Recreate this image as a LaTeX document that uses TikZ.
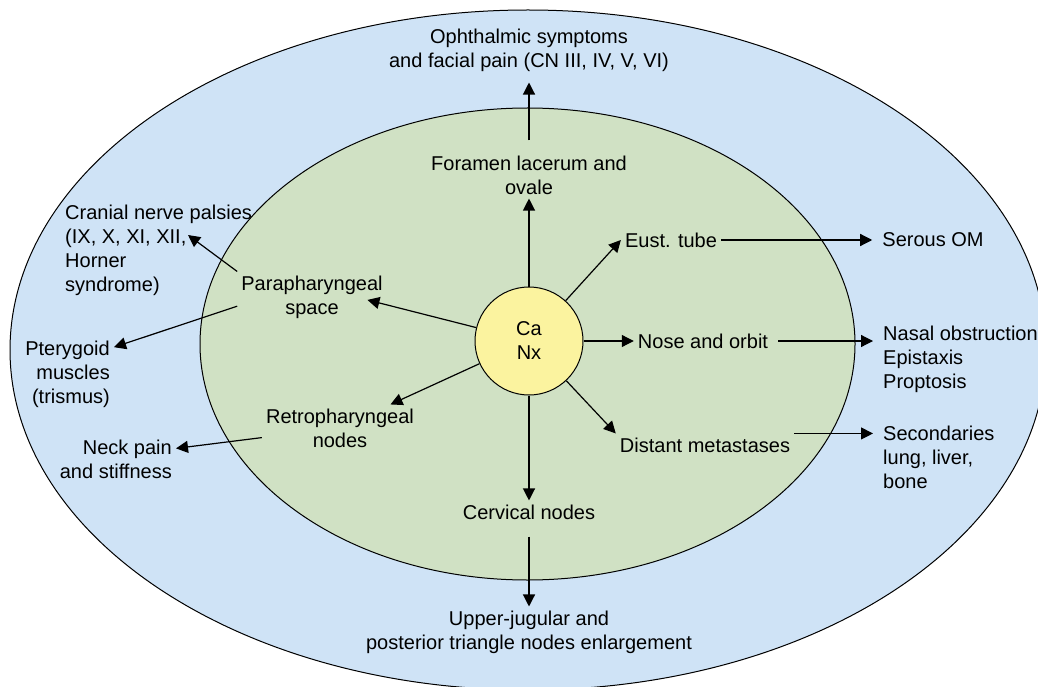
\documentclass[tikz,border=0pt]{standalone}
\usepackage{fontspec}
\setmainfont{Liberation Sans}
\usetikzlibrary{arrows.meta}

\definecolor{outerblue}{HTML}{CFE3F6}
\definecolor{innergreen}{HTML}{D0E1C4}
\definecolor{nxyellow}{HTML}{FBF39F}

\begin{document}
\begin{tikzpicture}[x=1pt, y=-1pt,
    lbl/.style={font=\fontsize{20}{24}\selectfont, align=center, inner sep=4pt},
    far/.style={lbl, align=left, inner sep=10pt},
    arr/.style={-{Triangle[length=12pt,width=12pt]}, line width=1.2pt}]

        \useasboundingbox (0,0) rectangle (1038,687);

        % Zonas
        \filldraw[fill=outerblue, line width=1pt] (528,350) ellipse [x radius=518, y radius=340];
        \filldraw[fill=innergreen, line width=1pt] (527.5,344) ellipse [x radius=327.5, y radius=236];

        % Tumor
        \node[lbl, circle, draw, fill=nxyellow, line width=1pt, minimum size=108pt] (ca) at (529,341) {Ca\\Nx};

        % Vias de extensao
        \node[lbl] (foramen) at (529,175) {Foramen lacerum and\\ovale};
        \node[lbl] (eust) at (671,240) {Eust. tube};
        \node[lbl] (nose) at (703,341) {Nose and orbit};
        \node[lbl] (distant) at (705,445) {Distant metastases};
        \node[lbl] (cervical) at (529,512) {Cervical nodes};
        \node[lbl] (retro) at (340,428) {Retropharyngeal\\nodes};
        \node[lbl] (para) at (312,297) {Parapharyngeal\\space};

        % Sintomas
        \node[lbl] (oph) at (529,50) {Ophthalmic symptoms\\and facial pain (CN III, IV, V, VI)};
        \node[far] (serous) at (933,240) {Serous OM};
        \node[far, anchor=west] (nasal) at (873,359) {Nasal obstruction\\Epistaxis\\Proptosis};
        \node[far, anchor=west] (second) at (873,457) {Secondaries\\lung, liver,\\bone};
        \node[lbl] (upper) at (529,632) {Upper-jugular and\\posterior triangle nodes enlargement};
        \node[lbl, align=right, anchor=east] (neck) at (176,459) {Neck pain\\and stiffness};
        \node[lbl, align=left, anchor=west] (cranial) at (61,250) {Cranial nerve palsies\\(IX, X, XI, XII,\\Horner\\syndrome)};
        \node[lbl, align=right, anchor=east] (ptery) at (114,374) {Pterygoid\\muscles\\(trismus)};
        \coordinate (crantip) at (188,235);

        % Setas
        \draw[arr] (ca) -- (foramen);
        \draw[arr, shorten <=11pt, shorten >=7pt] (foramen) -- (oph);
        \draw[arr] (ca) -- (eust.west);
        \draw[arr] (eust) -- (serous);
        \draw[arr] (ca) -- (nose);
        \draw[arr, shorten <=6pt] (nose) -- (nose -| nasal.west);
        \draw[arr] (ca) -- (distant.north west);
        \draw[arr] (distant.north east) -- (distant.north east -| second.west);
        \draw[arr] (ca) -- (cervical);
        \draw[arr, shorten <=13pt] (cervical) -- (upper);
        \draw[arr] (ca) -- (retro.25);
        \draw[arr] (retro.187) -- (neck.10);
        \draw[arr, shorten >=-20pt] (ca) -- (para.354);
        \draw[arr] (para.north west) -- (crantip);
        \draw[arr] (para.187) -- (ptery.30);

    \end{tikzpicture}
\end{document}
